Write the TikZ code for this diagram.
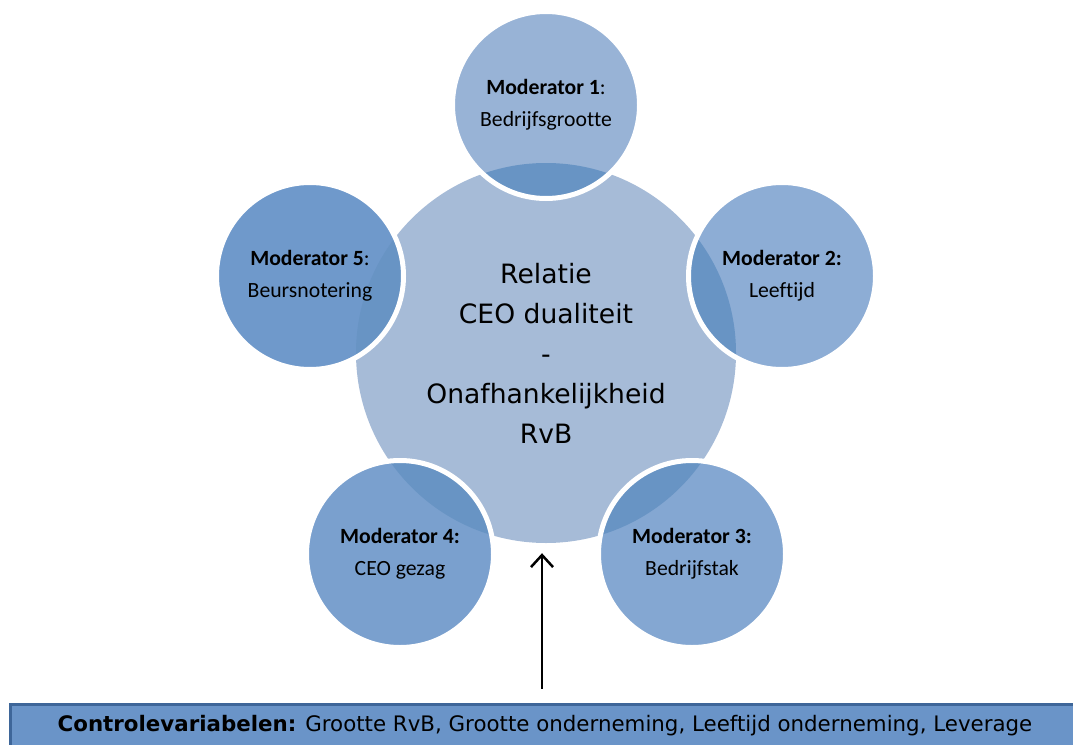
\documentclass[tikz,border=0pt]{standalone}
\usepackage{fontspec}
\newfontfamily\verdfont{DejaVu Sans}
\newfontfamily\calibrifont[Ligatures=NoCommon]{Carlito}
\definecolor{hubblue}{RGB}{166,187,215}
\definecolor{modA}{RGB}{152,179,214}
\definecolor{modB}{RGB}{141,173,213}
\definecolor{modC}{RGB}{132,167,210}
\definecolor{modD}{RGB}{122,160,206}
\definecolor{modE}{RGB}{111,153,203}
\definecolor{ovlblue}{RGB}{104,148,196}
\definecolor{barfill}{RGB}{106,148,200}
\definecolor{barline}{RGB}{62,102,153}
\usetikzlibrary{arrows.meta,positioning}

\begin{document}
\begin{tikzpicture}[x=1pt, y=-1pt,
  hub/.style={circle, fill=hubblue, minimum size=380pt, inner sep=0pt, align=center,
    font=\verdfont\fontsize{26.6}{40}\selectfont},
  modc/.style={circle, draw=white, line width=5pt, minimum size=187pt, inner sep=0pt, align=center,
    font=\calibrifont\fontsize{21.7}{34}\selectfont,
    path picture={\fill[ovlblue] (ctr.center) circle (190pt);}},
  barbox/.style={rectangle, fill=barfill, draw=barline, line width=3pt, minimum width=1070pt,
    minimum height=44pt, inner sep=0pt, font=\verdfont\fontsize{21.35}{24}\selectfont}]
\useasboundingbox (0,0) rectangle (1073,744);
% centre
\node[hub] (ctr) at (546,353) {Relatie\\CEO dualiteit\\-\\Onafhankelijkheid\\RvB};
% moderators
\node[modc, fill=modA] (mod1) at (546,105) {\raisebox{-2pt}{\textbf{Moderator 1}:}\\Bedrijfsgrootte};
\node[modc, fill=modB] (mod2) at (782,276) {\raisebox{-2pt}{\textbf{Moderator 2:}}\\Leeftijd};
\node[modc, fill=modC] (mod3) at (692,554) {\raisebox{-2pt}{\textbf{Moderator 3:}}\\Bedrijfstak};
\node[modc, fill=modD] (mod4) at (400,554) {\raisebox{-2pt}{\textbf{Moderator 4:}}\\CEO gezag};
\node[modc, fill=modE] (mod5) at (310,276) {\raisebox{-2pt}{\textbf{Moderator 5}:}\\Beursnotering};
% control variables
\node[barbox] (bar) at (545,726) {\raisebox{4pt}{\textbf{Controlevariabelen:} Grootte RvB, Grootte onderneming, Leeftijd onderneming, Leverage}};
\draw[-{Straight Barb[length=12pt, width=22pt]}, line width=2.5pt]
  ([xshift=-3pt, yshift=14pt]bar.north) -- ([xshift=-4pt, yshift=-10pt]ctr.south);
\end{tikzpicture}
\end{document}
